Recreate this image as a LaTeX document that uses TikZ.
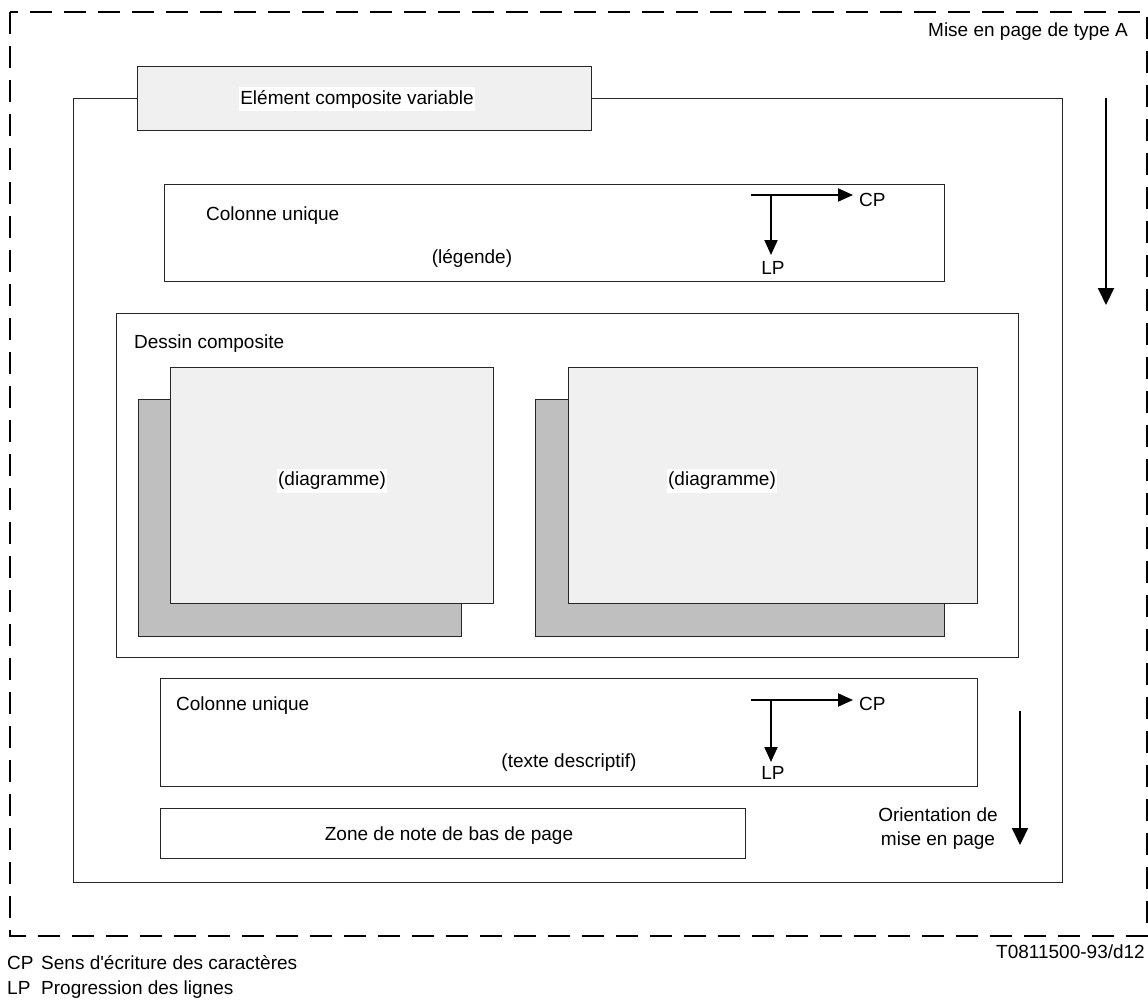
\documentclass[tikz,border=0pt]{standalone}
\usepackage{fontspec}
\newfontfamily\plainsans{Liberation Sans}
\usetikzlibrary{arrows.meta}
\begin{document}
\begin{tikzpicture}[x=1pt,y=-1pt,
  every node/.style={font=\plainsans\fontsize{19}{24}\selectfont, inner sep=0pt},
  boxline/.style={draw=black!85, line width=1.3pt},
  panel/.style={boxline, anchor=north west, inner sep=0pt},
  lightpanel/.style={panel, fill=black!6},
  shadowpanel/.style={panel, fill=black!25},
  label/.style={fill=white, inner xsep=1pt, inner ysep=3pt},
  bigarrow/.style={line width=2pt, -{Triangle[length=17pt,width=16pt]}},
  smallarrow/.style={line width=2pt, -{Triangle[length=15pt,width=13pt]}},
  pageborder/.style={line width=2pt, dash pattern=on 22pt off 12pt}
]
\useasboundingbox (0,0) rectangle (1148,1001);

% page boundary
\draw[pageborder] (10,12) rectangle (1147,936);
\node[anchor=base east] (typeA) at (1128,36) {Mise en page de type A};

% outer layout frame
\node[panel, minimum width=989pt, minimum height=784pt] (frame) at (73,98) {};

% composite element title tab
\node[lightpanel, minimum width=454pt, minimum height=64pt] (tab) at (137,66) {};
\node[label] (tabtext) at (357,99) {Elément composite variable};

% page orientation arrow (top right)
\coordinate (orA) at (1106,98);
\coordinate (orB) at (1106,305);
\draw[bigarrow] (orA) -- (orB);

% single column: caption
\node[panel, minimum width=780pt, minimum height=97pt] (col1) at (164,184) {};
\node[anchor=base west] (col1title) at (206,220) {Colonne unique};
\node[anchor=base] (legende) at (472,263) {(légende)};
\coordinate (cp1s) at (751,195);
\coordinate (cp1e) at (853,195);
\coordinate (lp1s) at (771,195);
\coordinate (lp1e) at (771,255);
\draw[smallarrow] (cp1s) -- (cp1e);
\draw[smallarrow] (lp1s) -- (lp1e);
\node[anchor=base west] (cp1) at (859,206) {CP};
\node[anchor=base] (lp1) at (773,274) {LP};

% composite drawing
\node[panel, minimum width=902pt, minimum height=344pt] (dessin) at (116,313) {};
\node[anchor=base west] (dessintitle) at (134,348) {Dessin composite};

\node[shadowpanel, minimum width=323pt, minimum height=237pt] (sh1) at (138,399) {};
\node[lightpanel, minimum width=323pt, minimum height=236pt] (dg1) at (170,367) {};
\node[label] (dg1text) at (332,481) {(diagramme)};

\node[shadowpanel, minimum width=409pt, minimum height=237pt] (sh2) at (535,399) {};
\node[lightpanel, minimum width=409pt, minimum height=236pt] (dg2) at (568,367) {};
\node[label] (dg2text) at (722,481) {(diagramme)};

% single column: descriptive text
\node[panel, minimum width=817pt, minimum height=108pt] (col2) at (160,678) {};
\node[anchor=base west] (col2title) at (176,710) {Colonne unique};
\node[anchor=base] (texte) at (569,767) {(texte descriptif)};
\coordinate (cp2s) at (751,700);
\coordinate (cp2e) at (853,700);
\coordinate (lp2s) at (771,700);
\coordinate (lp2e) at (771,762);
\draw[smallarrow] (cp2s) -- (cp2e);
\draw[smallarrow] (lp2s) -- (lp2e);
\node[anchor=base west] (cp2) at (859,710) {CP};
\node[anchor=base] (lp2) at (773,779) {LP};

% footnote area
\node[panel, minimum width=585pt, minimum height=50pt] (note) at (160,808) {};
\node[anchor=base] (notetext) at (449,840) {Zone de note de bas de page};

% page orientation arrow (bottom right)
\coordinate (orC) at (1020,711);
\coordinate (orD) at (1020,845);
\draw[bigarrow] (orC) -- (orD);
\node[anchor=base, align=center] (orient) at (938,845) {Orientation de\\mise en page};

% reference and legend
\node[anchor=base east] (ref) at (1145,958) {T0811500-93/d12};
\node[anchor=base west] (cpkey) at (7,969) {CP};
\node[anchor=base west] (cpdesc) at (41,969) {Sens d'écriture des caractères};
\node[anchor=base west] (lpkey) at (7,994) {LP};
\node[anchor=base west] (lpdesc) at (41,994) {Progression des lignes};
\end{tikzpicture}
\end{document}
